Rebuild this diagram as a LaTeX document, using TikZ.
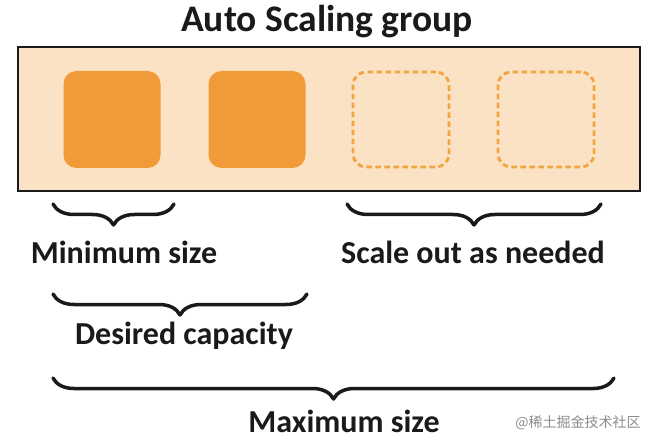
\documentclass[tikz,border=0pt]{standalone}
\usepackage{fontspec}
\setmainfont{Carlito}
\newfontfamily\cjk{Noto Sans CJK SC}
\usetikzlibrary{decorations.pathreplacing}
\definecolor{bgpeach}{HTML}{FBE2C5}
\definecolor{instfill}{HTML}{F19B38}
\definecolor{instdash}{HTML}{F0A53F}
\definecolor{txt}{HTML}{1A1A1A}
\begin{document}
\begin{tikzpicture}[x=1pt,y=-1pt,
  group/.style={draw=txt, line width=2pt, fill=bgpeach, minimum width=622pt, minimum height=144pt, inner sep=0pt},
  inst/.style={fill=instfill, rounded corners=13pt, minimum width=97pt, minimum height=97pt, inner sep=0pt},
  ghost/.style={draw=instdash, line width=2.8pt, dash pattern=on 5.5pt off 3.5pt, rounded corners=13pt, minimum width=96pt, minimum height=95pt, inner sep=0pt},
  bracebar/.style={decorate, decoration={brace, amplitude=21pt, mirror}, line width=3.5pt, txt, line cap=round, line join=round},
  lbl/.style={font=\bfseries\fontsize{32}{38}\selectfont, text=txt, inner sep=0pt},
  title/.style={font=\bfseries\fontsize{37.5}{44}\selectfont, text=txt, inner sep=0pt}]
\useasboundingbox (0,0) rectangle (650,446);
\fill[white] (0,0) rectangle (650,446);
\node[title] (t) at (327,22) {Auto Scaling group};
\node[group] (g) at (329,119) {};
\node[inst] (i1) at (112,119.5) {};
\node[inst] (i2) at (257,119.5) {};
\node[ghost] (i3) at (401,119.5) {};
\node[ghost] (i4) at (546,119.5) {};
% brace end points
\coordinate (mA) at (53,204);
\coordinate (mB) at (174,204);
\coordinate (sA) at (347,204);
\coordinate (sB) at (601,204);
\coordinate (dA) at (53,294);
\coordinate (dB) at (307,294);
\coordinate (xA) at (53,378);
\coordinate (xB) at (614,378);
\draw[bracebar] (mA) -- (mB);
\draw[bracebar] (sA) -- (sB);
\draw[bracebar] (dA) -- (dB);
\draw[bracebar] (xA) -- (xB);
\node[lbl] (lmin) at (124,252) {Minimum size};
\node[lbl] (lscale) at (473,252) {Scale out as needed};
\node[lbl] (ldes) at (184,336) {Desired capacity};
\node[lbl] (lmax) at (344,421) {Maximum size};
\node[font=\cjk\fontsize{14}{16}\selectfont, text=black!45, inner sep=0pt] (wm) at (578,423) {@稀土掘金技术社区};
\end{tikzpicture}
\end{document}
